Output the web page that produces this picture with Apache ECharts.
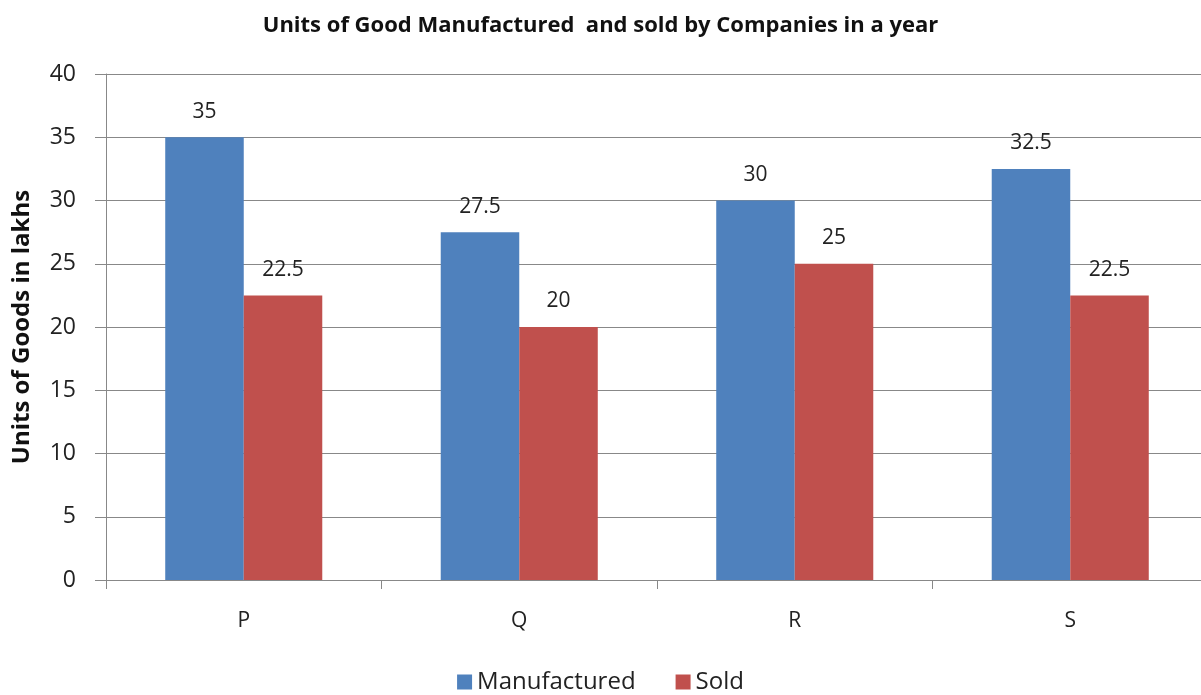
<!DOCTYPE html>
<html><head><meta charset="utf-8">
<script src="https://cdn.jsdelivr.net/npm/echarts@6/dist/echarts.min.js"></script>
<style>html,body{margin:0;padding:0;background:#fff}#c{width:1201px;height:695px}</style>
</head><body><div id="c"></div>
<script>
const categories = ['P', 'Q', 'R', 'S'];
const manufactured = [35, 27.5, 30, 32.5];
const sold = [22.5, 20, 25, 22.5];
const yTicks = [0, 5, 10, 15, 20, 25, 30, 35, 40];

const font = '"Open Sans", "Liberation Sans", sans-serif';
const chart = echarts.init(document.getElementById('c'), null, {renderer: 'canvas'});
const labelStyle = {show: true, position: 'top', distance: 15, color: '#222', fontSize: 21, fontFamily: font};
chart.setOption({
  animation: false,
  backgroundColor: '#fff',
  title: {
    text: 'Units of Good Manufactured  and sold by Companies in a year',
    left: 'center', top: 10,
    textStyle: {fontSize: 22, fontWeight: 'bold', color: '#111', fontFamily: font}
  },
  legend: {
    bottom: -4, left: 'center',
    itemWidth: 15, itemHeight: 15, itemGap: 40,
    icon: 'rect',
    textStyle: {fontSize: 24, color: '#222', fontFamily: font},
    data: ['Manufactured', 'Sold']
  },
  grid: {left: 106, top: 74, width: 1102, height: 506, containLabel: false, outerBoundsMode: 'none'},
  xAxis: {
    type: 'category', data: categories,
    axisLine: {lineStyle: {color: '#888', width: 1}},
    axisTick: {show: true, length: 9, lineStyle: {color: '#888'}},
    axisLabel: {fontSize: 21, color: '#222', margin: 31, fontFamily: font}
  },
  yAxis: {
    type: 'value', min: yTicks[0], max: yTicks[yTicks.length - 1], interval: 5,
    name: 'Units of Goods in lakhs', nameLocation: 'middle', nameGap: 72,
    nameTextStyle: {fontSize: 24, fontWeight: 'bold', color: '#111', fontFamily: font},
    axisLine: {show: true, lineStyle: {color: '#888', width: 1}},
    axisTick: {show: true, length: 11, lineStyle: {color: '#888'}},
    axisLabel: {fontSize: 23, color: '#222', margin: 30, fontFamily: font},
    splitLine: {lineStyle: {color: '#888', width: 1}}
  },
  series: [
    {name: 'Manufactured', type: 'bar', data: manufactured, barGap: '0%', barCategoryGap: '43%',
     itemStyle: {color: '#4F81BD'}, label: labelStyle},
    {name: 'Sold', type: 'bar', data: sold,
     itemStyle: {color: '#C0504D'}, label: labelStyle}
  ]
});
</script></body></html>
